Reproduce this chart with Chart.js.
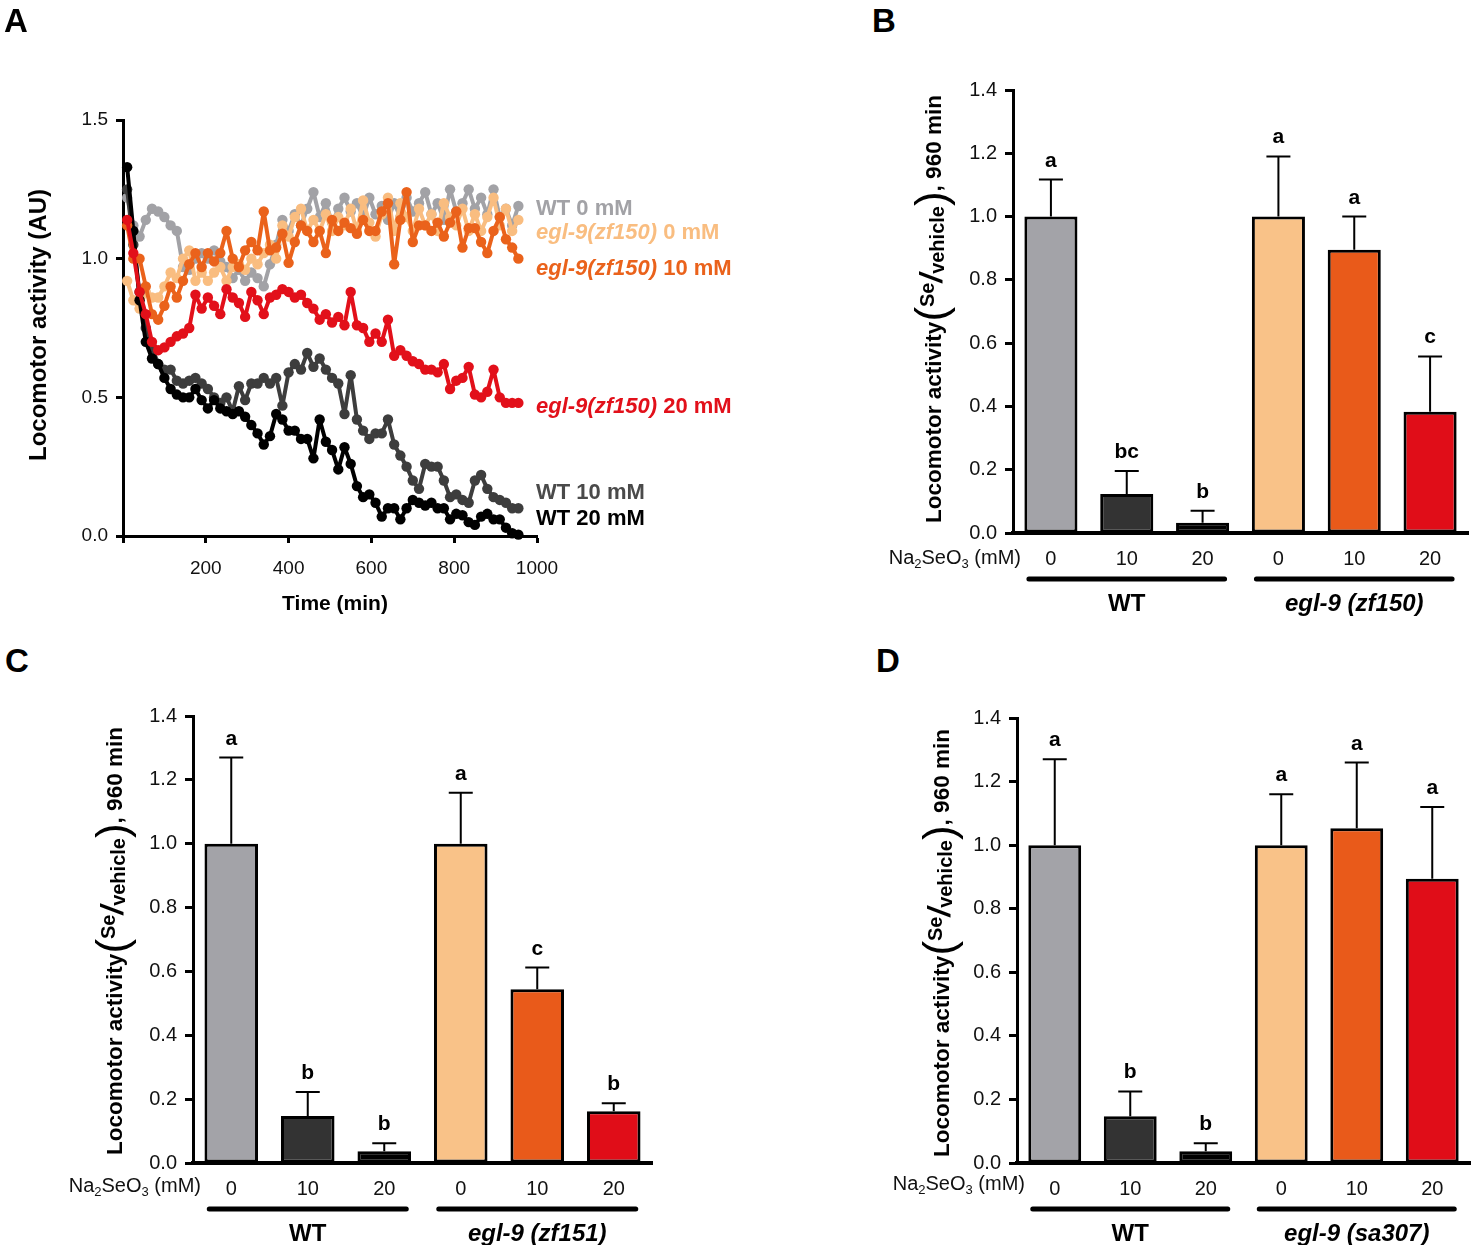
<!DOCTYPE html>
<html>
<head>
<meta charset="utf-8">
<script src="https://cdn.jsdelivr.net/npm/chart.js@4.4.1/dist/chart.umd.min.js"></script>
<style>
  body { margin: 0; background: #fff; font-family: "Liberation Sans", Arial, sans-serif; }
  #page { position: relative; width: 1476px; height: 1245px; overflow: hidden; }
  canvas { position: absolute; }
  .txt { position: absolute; white-space: nowrap; color: #000; }
  .panel { font-weight: bold; font-size: 33px; line-height: 1; }
  .leg { font-weight: bold; font-size: 22px; line-height: 24px; }
  .leg i { font-style: italic; }
  .na { font-size: 20px; line-height: 24px; text-align: right; width: 200px; color: #111; }
  .na sub { font-size: 13px; vertical-align: -4px; }
  .ytitle { width: 560px; height: 44px; line-height: 44px; text-align: center; transform: rotate(-90deg);
            font-weight: bold; font-size: 22.5px; }
  .ytitle .par { font-size: 44px; font-weight: normal; vertical-align: -5px; }
  .ytitle .se { font-size: 20px; vertical-align: 7px; }
  .ytitle .sl { font-size: 31px; font-style: italic; vertical-align: -1px; }
  .ytitle .veh { font-size: 20px; vertical-align: -3px; }
</style>
</head>
<body>
<div id="page">
  <canvas id="chartA" width="580" height="640" style="left:0;top:0"></canvas>
  <canvas id="chartB" width="596" height="600" style="left:880px;top:40px"></canvas>
  <canvas id="chartC" width="610" height="565" style="left:60px;top:680px"></canvas>
  <canvas id="chartD" width="591" height="565" style="left:885px;top:680px"></canvas>

  <div class="txt panel" style="left:4px;top:4px">A</div>
  <div class="txt panel" style="left:872px;top:4px">B</div>
  <div class="txt panel" style="left:5px;top:644px">C</div>
  <div class="txt panel" style="left:876px;top:644px">D</div>

  <div class="txt" style="left:38px;top:325px;transform:translate(-50%,-50%) rotate(-90deg);font-weight:bold;font-size:24px">Locomotor activity (AU)</div>
  <div class="txt" style="left:335px;top:603px;transform:translate(-50%,-50%);font-weight:bold;font-size:21px">Time (min)</div>

  <div class="txt leg" style="left:536px;top:196px;color:#a2a2a6">WT 0 mM</div>
  <div class="txt leg" style="left:536px;top:220px;color:#f9bd80"><i>egl-9(zf150)</i> 0 mM</div>
  <div class="txt leg" style="left:536px;top:256px;color:#ea621b"><i>egl-9(zf150)</i> 10 mM</div>
  <div class="txt leg" style="left:536px;top:394px;color:#e2101a"><i>egl-9(zf150)</i> 20 mM</div>
  <div class="txt leg" style="left:536px;top:480px;color:#4a4a4a">WT 10 mM</div>
  <div class="txt leg" style="left:536px;top:506px;color:#000">WT 20 mM</div>

  <div class="txt na" style="left:821px;top:545px">Na<sub>2</sub>SeO<sub>3</sub> (mM)</div>
  <div class="txt na" style="left:1px;top:1173px">Na<sub>2</sub>SeO<sub>3</sub> (mM)</div>
  <div class="txt na" style="left:825px;top:1171px">Na<sub>2</sub>SeO<sub>3</sub> (mM)</div>

  <div id="ytB" class="txt ytitle" style="left:647px;top:287px"></div>
  <div id="ytC" class="txt ytitle" style="left:-172px;top:919px"></div>
  <div id="ytD" class="txt ytitle" style="left:655px;top:921px"></div>
</div>

<script>
// panel A: locomotor activity over time
const timeMin = [10, 25, 40, 55, 70, 85, 100, 115, 130, 145, 160, 175, 190, 205, 220, 235,
  250, 265, 280, 295, 310, 325, 340, 355, 370, 385, 400, 415, 430, 445, 460, 475,
  490, 505, 520, 535, 550, 565, 580, 595, 610, 625, 640, 655, 670, 685, 700, 715,
  730, 745, 760, 775, 790, 805, 820, 835, 850, 865, 880, 895, 910, 925, 940, 955];

const wt0 = [1.22, 1.12, 1.08, 1.14, 1.18, 1.17, 1.15, 1.12, 1.10, 0.97,
  0.96, 1.00, 1.02, 1.00, 1.03, 0.99, 0.97, 0.93, 0.96, 0.92,
  0.95, 0.93, 0.90, 0.98, 1.05, 1.14, 1.10, 1.16, 1.12, 1.18,
  1.24, 1.15, 1.20, 1.13, 1.18, 1.22, 1.17, 1.20, 1.15, 1.22,
  1.16, 1.19, 1.14, 1.20, 1.15, 1.22, 1.17, 1.20, 1.24, 1.16,
  1.20, 1.14, 1.25, 1.17, 1.20, 1.25, 1.18, 1.22, 1.16, 1.25,
  1.15, 1.18, 1.12, 1.19];

const egl0 = [0.92, 0.85, 0.82, 0.88, 0.86, 0.86, 0.90, 0.95, 0.93, 1.00,
  1.03, 0.92, 0.95, 0.92, 0.95, 0.97, 0.92, 0.97, 0.98, 0.96,
  1.00, 0.98, 1.02, 1.05, 1.00, 1.12, 1.08, 1.15, 1.18, 1.10,
  1.14, 1.10, 1.16, 1.10, 1.15, 1.12, 1.18, 1.10, 1.21, 1.13,
  1.08, 1.16, 1.22, 1.10, 1.20, 1.15, 1.10, 1.18, 1.12, 1.16,
  1.10, 1.20, 1.15, 1.12, 1.18, 1.10, 1.16, 1.10, 1.15, 1.22,
  1.12, 1.18, 1.10, 1.14];

const egl10 = [1.12, 1.00, 1.00, 0.90, 0.80, 0.78, 0.83, 0.90, 0.86, 0.92,
  0.98, 1.02, 0.97, 1.02, 0.99, 1.02, 1.10, 1.00, 0.97, 1.03,
  1.06, 1.03, 1.17, 1.03, 1.04, 1.09, 0.985, 1.06, 1.12, 1.10,
  1.06, 1.10, 1.02, 1.14, 1.10, 1.13, 1.11, 1.09, 1.14, 1.10,
  1.10, 1.17, 1.20, 0.98, 1.14, 1.24, 1.06, 1.12, 1.12, 1.10,
  1.13, 1.08, 1.13, 1.17, 1.04, 1.11, 1.11, 1.06, 1.02, 1.10,
  1.15, 1.07, 1.04, 1.00];

const egl20 = [1.14, 1.02, 0.88, 0.80, 0.70, 0.67, 0.68, 0.70, 0.72, 0.73,
  0.75, 0.87, 0.82, 0.86, 0.83, 0.80, 0.89, 0.86, 0.84, 0.79,
  0.88, 0.85, 0.80, 0.86, 0.87, 0.89, 0.88, 0.86, 0.87, 0.84,
  0.82, 0.78, 0.80, 0.77, 0.79, 0.76, 0.88, 0.76, 0.75, 0.70,
  0.73, 0.70, 0.78, 0.65, 0.67, 0.65, 0.63, 0.62, 0.60, 0.60,
  0.59, 0.62, 0.53, 0.56, 0.57, 0.61, 0.51, 0.50, 0.52, 0.60,
  0.50, 0.48, 0.48, 0.48];

const wt10 = [1.25, 1.05, 0.88, 0.75, 0.68, 0.62, 0.60, 0.60, 0.56, 0.55,
  0.56, 0.57, 0.55, 0.53, 0.50, 0.48, 0.50, 0.45, 0.54, 0.49,
  0.55, 0.55, 0.57, 0.55, 0.57, 0.47, 0.59, 0.62, 0.60, 0.66,
  0.61, 0.64, 0.60, 0.57, 0.55, 0.44, 0.58, 0.42, 0.38, 0.35,
  0.37, 0.37, 0.42, 0.33, 0.29, 0.25, 0.20, 0.17, 0.26, 0.25,
  0.25, 0.20, 0.14, 0.15, 0.13, 0.12, 0.20, 0.22, 0.17, 0.14,
  0.13, 0.12, 0.10, 0.10];

const wt20 = [1.33, 1.10, 0.85, 0.70, 0.64, 0.62, 0.57, 0.53, 0.51, 0.50,
  0.50, 0.53, 0.49, 0.46, 0.49, 0.46, 0.45, 0.44, 0.45, 0.43,
  0.40, 0.37, 0.33, 0.36, 0.44, 0.42, 0.38, 0.38, 0.35, 0.35,
  0.28, 0.42, 0.34, 0.31, 0.24, 0.32, 0.26, 0.18, 0.14, 0.15,
  0.12, 0.07, 0.10, 0.10, 0.06, 0.10, 0.13, 0.12, 0.11, 0.12,
  0.10, 0.10, 0.06, 0.08, 0.075, 0.05, 0.04, 0.07, 0.08, 0.06,
  0.06, 0.03, 0.01, 0.005];

// panels B-D: activity at 960 min relative to vehicle
const doseLabels = ['0', '10', '20', '0', '10', '20'];

const bMeans = [1.0, 0.123, 0.032, 1.0, 0.895, 0.383];
const bErrors = [0.117, 0.073, 0.038, 0.19, 0.105, 0.175];
const bLetters = ['a', 'bc', 'b', 'a', 'a', 'c'];

const cMeans = [1.0, 0.147, 0.037, 1.0, 0.544, 0.162];
const cErrors = [0.27, 0.075, 0.025, 0.16, 0.068, 0.025];
const cLetters = ['a', 'b', 'b', 'a', 'c', 'b'];

const dMeans = [1.0, 0.147, 0.037, 1.0, 1.053, 0.894];
const dErrors = [0.27, 0.078, 0.025, 0.16, 0.207, 0.226];
const dLetters = ['a', 'b', 'b', 'a', 'a', 'a'];

const barColors = ['#a3a3a8', '#333333', '#000000', '#f9c288', '#e95a1a', '#e00d18'];
const FONT = '"Liberation Sans", Arial, sans-serif';

function yTitleHtml() {
  return 'Locomotor activity<span class="par">(</span><span class="se">Se</span>' +
    '<span class="sl">/</span><span class="veh">vehicle</span><span class="par">)</span>, 960 min';
}
document.getElementById('ytB').innerHTML = yTitleHtml();
document.getElementById('ytC').innerHTML = yTitleHtml();
document.getElementById('ytD').innerHTML = yTitleHtml();

function series(label, values, color) {
  return {
    label: label,
    data: timeMin.map((t, i) => ({ x: t, y: values[i] })),
    borderColor: color,
    backgroundColor: color,
    borderWidth: 4,
    borderJoinStyle: 'round',
    borderCapStyle: 'round',
    pointRadius: 5.2,
    pointBorderWidth: 0,
    pointBackgroundColor: color,
    tension: 0,
    clip: false
  };
}

const tickFont = { family: FONT, size: 19 };
const barTickFont = { family: FONT, size: 20 };

new Chart(document.getElementById('chartA'), {
  type: 'line',
  data: {
    datasets: [
      series('egl-9(zf150) 20 mM', egl20, '#e2101a'),
      series('egl-9(zf150) 10 mM', egl10, '#ea621b'),
      series('WT 20 mM', wt20, '#000000'),
      series('WT 10 mM', wt10, '#3d3d3d'),
      series('egl-9(zf150) 0 mM', egl0, '#f9bd80'),
      series('WT 0 mM', wt0, '#a2a2a6')
    ]
  },
  options: {
    responsive: false,
    animation: false,
    layout: { padding: { left: 0, top: 120, right: 43, bottom: 0 } },
    plugins: { legend: { display: false }, tooltip: { enabled: false } },
    scales: {
      x: {
        type: 'linear', min: 0, max: 1000,
        ticks: { stepSize: 200, font: tickFont, color: '#111', padding: 14,
          callback: v => (v === 0 ? '' : v) },
        grid: { drawOnChartArea: false, tickLength: 7, tickWidth: 3, tickColor: '#000' },
        border: { color: '#000', width: 3 },
        afterFit: s => { s.height = 104; }
      },
      y: {
        min: 0, max: 1.5,
        ticks: { stepSize: 0.5, font: tickFont, color: '#111', padding: 8,
          callback: v => v.toFixed(1) },
        grid: { drawOnChartArea: false, tickLength: 7, tickWidth: 3, tickColor: '#000' },
        border: { color: '#000', width: 3 },
        afterFit: s => { s.width = 123; }
      }
    }
  }
});

// error bars, letters and genotype groups under the bars
const barExtras = {
  id: 'barExtras',
  afterDatasetsDraw(chart, args, opts) {
    const ctx = chart.ctx;
    const meta = chart.getDatasetMeta(0);
    const y = chart.scales.y;
    const area = chart.chartArea;
    const means = chart.data.datasets[0].data;
    ctx.save();
    ctx.strokeStyle = '#000';
    ctx.fillStyle = '#000';
    ctx.lineWidth = 2;
    ctx.textAlign = 'center';
    ctx.textBaseline = 'alphabetic';
    ctx.font = 'bold 21px ' + FONT;
    meta.data.forEach((bar, i) => {
      const top = y.getPixelForValue(means[i]);
      const cap = y.getPixelForValue(means[i] + opts.errors[i]);
      ctx.beginPath();
      ctx.moveTo(bar.x, top);
      ctx.lineTo(bar.x, cap);
      ctx.moveTo(bar.x - 12, cap);
      ctx.lineTo(bar.x + 12, cap);
      ctx.stroke();
      ctx.fillText(opts.letters[i], bar.x, cap - 13);
    });
    ctx.lineWidth = 5;
    ctx.lineCap = 'round';
    opts.groups.forEach((g, gi) => {
      const x0 = meta.data[gi * 3].x - 22;
      const x1 = meta.data[gi * 3 + 2].x + 22;
      const ly = area.bottom + 46;
      ctx.beginPath();
      ctx.moveTo(x0, ly);
      ctx.lineTo(x1, ly);
      ctx.stroke();
      ctx.font = (g.italic ? 'italic ' : '') + 'bold 24px ' + FONT;
      ctx.textBaseline = 'middle';
      ctx.fillText(g.name, (x0 + x1) / 2, area.bottom + 71);
    });
    ctx.restore();
  }
};

function barChart(id, means, errors, letters, mutant, yWidth, xHeight, padding) {
  return new Chart(document.getElementById(id), {
    type: 'bar',
    data: {
      labels: doseLabels,
      datasets: [{
        data: means,
        backgroundColor: barColors,
        borderColor: '#000',
        borderWidth: 3,
        borderSkipped: false,
        barPercentage: 0.7,
        categoryPercentage: 1
      }]
    },
    plugins: [barExtras],
    options: {
      responsive: false,
      animation: false,
      layout: { padding: padding },
      plugins: {
        legend: { display: false },
        tooltip: { enabled: false },
        barExtras: {
          errors: errors,
          letters: letters,
          groups: [{ name: 'WT', italic: false }, { name: mutant, italic: true }]
        }
      },
      scales: {
        x: {
          ticks: { font: barTickFont, color: '#111', padding: 14 },
          grid: { drawOnChartArea: false, drawTicks: false },
          border: { color: '#000', width: 4 },
          afterFit: s => { s.height = xHeight; }
        },
        y: {
          min: 0, max: 1.4,
          ticks: { stepSize: 0.2, font: barTickFont, color: '#111', padding: 8,
            callback: v => v.toFixed(1) },
          grid: { drawOnChartArea: false, tickLength: 8, tickWidth: 3, tickColor: '#000' },
          border: { color: '#000', width: 3 },
          afterFit: s => { s.width = yWidth; }
        }
      }
    }
  });
}

barChart('chartB', bMeans, bErrors, bLetters, 'egl-9 (zf150)', 133, 107, { left: 0, top: 50, right: 8, bottom: 0 });
barChart('chartC', cMeans, cErrors, cLetters, 'egl-9 (zf151)', 133, 82, { left: 0, top: 36, right: 18, bottom: 0 });
barChart('chartD', dMeans, dErrors, dLetters, 'egl-9 (sa307)', 132, 82, { left: 0, top: 38, right: 6, bottom: 0 });
</script>
</body>
</html>
